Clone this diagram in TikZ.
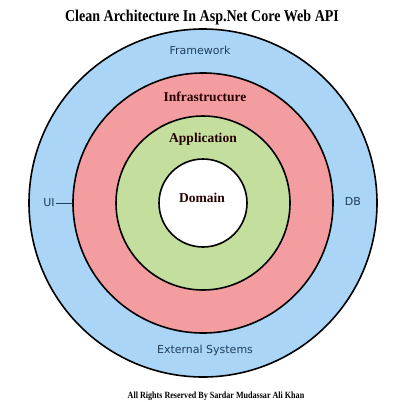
\documentclass[tikz,border=0pt]{standalone}
\usepackage{fontspec}
\setmainfont{Liberation Serif}
\setsansfont{DejaVu Sans}
\newfontfamily\narrowserif[FakeStretch=0.85]{Liberation Serif}
\usepackage{tikz}
\usetikzlibrary{positioning}

\definecolor{fwblue}{RGB}{170,213,247}
\definecolor{infred}{RGB}{243,157,161}
\definecolor{appgreen}{RGB}{196,222,158}
\definecolor{lbltext}{RGB}{33,64,92}

\tikzset{
    ring/.style={draw=black, line width=1.6pt},
    outerlbl/.style={font=\sffamily\fontsize{11}{13}\selectfont, text=lbltext, inner sep=1pt},
    innerlbl/.style={font=\bfseries\fontsize{13.5}{15}\selectfont, text=black!85!red, inner sep=1pt}
}

\begin{document}
\begin{tikzpicture}[x=1pt, y=-1pt]
\useasboundingbox (0,0) rectangle (402,402);
\coordinate (c) at (203,203);
% the four layers
\draw[ring, fill=fwblue] (c) circle (174);
\draw[ring, fill=infred] (c) circle (130);
\draw[ring, fill=appgreen] (c) circle (87);
\draw[ring, fill=white] (c) circle (44);
% labels
\node[font=\narrowserif\bfseries\fontsize{16.5}{18}\selectfont] (title) at (202,18) {Clean Architecture In Asp.Net Core Web API};
\node[outerlbl] (framework) at (200,50) {Framework};
\node[outerlbl] (external) at (205,350) {External Systems};
\node[outerlbl] (ui) at (49,203) {UI};
\node[outerlbl] (db) at (353,201) {DB};
\node[innerlbl] (infra) at (205,97) {Infrastructure};
\node[innerlbl] (app) at (203,139) {Application};
\node[innerlbl] (domain) at (202,198) {Domain};
\coordinate (uiend) at (73,203);
\draw[line width=0.8pt, lbltext] (ui) -- (uiend);
\node[font=\narrowserif\bfseries\fontsize{9.5}{11}\selectfont] (rights) at (216,396) {All Rights Reserved By Sardar Mudassar Ali Khan};
\end{tikzpicture}
\end{document}
